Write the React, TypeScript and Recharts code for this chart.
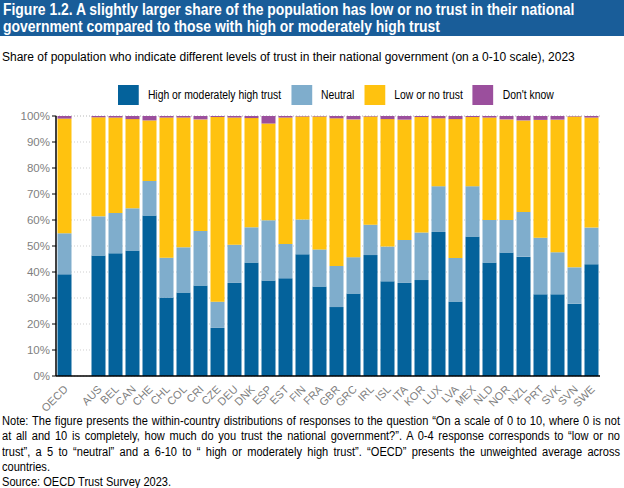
import React from 'react';
import { BarChart, Bar, XAxis, YAxis, CartesianGrid } from 'recharts';

const categories = [
  'OECD', '', 'AUS', 'BEL', 'CAN', 'CHE', 'CHL', 'COL', 'CRI', 'CZE', 'DEU', 'DNK', 'ESP', 'EST', 'FIN', 'FRA',
  'GBR', 'GRC', 'IRL', 'ISL', 'ITA', 'KOR', 'LUX', 'LVA', 'MEX', 'NLD', 'NOR', 'NZL', 'PRT', 'SVK', 'SVN', 'SWE',
];

const highTrust = [
  39.1, null, 46.3, 47.2, 48.3, 61.7, 30.2, 32.1, 34.8, 18.5, 35.8, 43.7, 36.7, 37.6, 46.8, 34.4,
  26.5, 31.7, 46.5, 36.4, 35.8, 36.9, 55.4, 28.7, 53.7, 43.7, 47.5, 45.9, 31.4, 31.4, 27.8, 43.0,
];
const neutral = [
  15.8, null, 15.1, 15.5, 16.2, 13.3, 15.3, 17.4, 21.0, 10.1, 14.7, 13.5, 23.2, 13.2, 13.4, 14.3,
  15.8, 14.0, 11.7, 13.4, 16.5, 18.3, 17.6, 16.7, 19.3, 16.3, 12.5, 17.2, 21.8, 16.2, 14.0, 14.1,
];
const lowTrust = [
  44.1, null, 38.1, 36.7, 34.3, 23.3, 53.9, 49.9, 42.9, 71.0, 48.9, 42.0, 37.2, 48.6, 39.6, 51.1,
  56.8, 53.0, 41.6, 49.0, 46.3, 44.4, 26.1, 53.4, 26.6, 39.4, 38.7, 35.2, 45.3, 51.0, 58.0, 42.3,
];
const dontKnow = [
  1.0, null, 0.5, 0.6, 1.2, 1.7, 0.6, 0.6, 1.3, 0.4, 0.6, 0.8, 2.9, 0.6, 0.2, 0.2,
  0.9, 1.3, 0.2, 1.2, 1.4, 0.4, 0.9, 1.2, 0.4, 0.6, 1.3, 1.7, 1.5, 1.4, 0.2, 0.6,
];

const yTicks = [0, 10, 20, 30, 40, 50, 60, 70, 80, 90, 100];

const SERIES = [
  { key: 'high', name: 'High or moderately high trust', color: '#04629b' },
  { key: 'neutral', name: 'Neutral', color: '#7fadcc' },
  { key: 'low', name: 'Low or no trust', color: '#ffc20f' },
  { key: 'dk', name: "Don't know", color: '#9b4f9d' },
];

const FONT = '"Liberation Sans", Arial, sans-serif';

const chartData = categories.map((c, i) => ({
  name: c || ' ',
  high: highTrust[i],
  neutral: neutral[i],
  low: lowTrust[i],
  dk: dontKnow[i],
}));

function XTick(props: any) {
  const { x, y, payload } = props;
  const label = (payload.value || '').trim();
  if (!label) return null;
  return (
    <text
      x={x + 4}
      y={y + 6}
      transform={`rotate(-45, ${x + 4}, ${y + 6})`}
      textAnchor="end"
      fill="#7f7f7f"
      fontSize={11}
      fontFamily={FONT}
    >
      {label}
    </text>
  );
}

const noteLines = [
  'Note: The figure presents the within-country distributions of responses to the question \u201cOn a scale of 0 to 10, where 0 is not',
  'at all and 10 is completely, how much do you trust the national government?\u201d. A 0-4 response corresponds to \u201clow or no',
  'trust\u201d, a 5 to \u201cneutral\u201d and a 6-10 to \u201c high or moderately high trust\u201d. \u201cOECD\u201d presents the unweighted average across',
];

// narrow the default sans a bit to mimic the condensed report font
const SQ = 0.83;

export default function App() {
  return (
    <div style={{ position: 'absolute', left: 0, top: 0, width: 624, height: 488, background: '#fff', fontFamily: FONT, overflow: 'hidden' }}>
      <div style={{ position: 'absolute', left: 0, top: 0, width: 624, height: 36, background: '#195d99' }} />
      <div
        style={{
          position: 'absolute', left: 3, top: 1, width: 700, color: '#fff', fontWeight: 'bold', fontSize: 16,
          lineHeight: '17px', whiteSpace: 'nowrap', transform: 'scaleX(0.87)', transformOrigin: 'left top',
        }}
      >
        <div>Figure 1.2. A slightly larger share of the population has low or no trust in their national</div>
        <div>government compared to those with high or moderately high trust</div>
      </div>
      <div style={{ position: 'absolute', left: 2, top: 50, fontSize: 12, color: '#000', whiteSpace: 'nowrap' }}>
        Share of population who indicate different levels of trust in their national government (on a 0-10 scale), 2023
      </div>

      <div
        style={{
          position: 'absolute', left: 118, top: 85, display: 'flex', alignItems: 'center', fontSize: 12.5, color: '#000',
          whiteSpace: 'nowrap', transform: `scaleX(${SQ})`, transformOrigin: 'left top',
        }}
      >
        {SERIES.map((s) => (
          <div key={s.key} style={{ display: 'flex', alignItems: 'center', marginRight: 12 }}>
            <div style={{ width: 25, height: 20, background: s.color, marginRight: 11 }} />
            <span>{s.name}</span>
          </div>
        ))}
      </div>

      <div style={{ position: 'absolute', left: 0, top: 0 }}>
        <BarChart
          width={624}
          height={414}
          data={chartData}
          margin={{ top: 116, right: 24, left: 5, bottom: 0 }}
          barCategoryGap={1.5}
        >
          <CartesianGrid vertical={false} stroke="#cfcfcf" strokeDasharray="1 2" />
          <XAxis
            dataKey="name"
            interval={0}
            height={38}
            tick={<XTick />}
            tickLine={false}
            axisLine={{ stroke: '#000', strokeWidth: 1.5 }}
          />
          <YAxis
            width={51}
            domain={[0, 100]}
            ticks={yTicks}
            tickFormatter={(v) => `${v}%`}
            tick={{ fill: '#7f7f7f', fontSize: 11.5, fontFamily: FONT }}
            tickLine={{ stroke: '#000' }}
            tickSize={4}
            axisLine={{ stroke: '#000', strokeWidth: 1.5 }}
          />
          {SERIES.map((s) => (
            <Bar key={s.key} dataKey={s.key} stackId="a" fill={s.color} isAnimationActive={false} />
          ))}
        </BarChart>
      </div>

      <div
        style={{
          position: 'absolute', left: 2, top: 414, width: 618 / 0.885, fontSize: 12.5, lineHeight: '15.3px', color: '#000',
          transform: 'scaleX(0.885)', transformOrigin: 'left top',
        }}
      >
        {noteLines.map((l, i) => (
          <div key={i} style={{ textAlign: 'justify', textAlignLast: 'justify', whiteSpace: 'nowrap' }}>{l}</div>
        ))}
        <div>countries.</div>
        <div>Source: OECD Trust Survey 2023.</div>
      </div>
    </div>
  );
}
